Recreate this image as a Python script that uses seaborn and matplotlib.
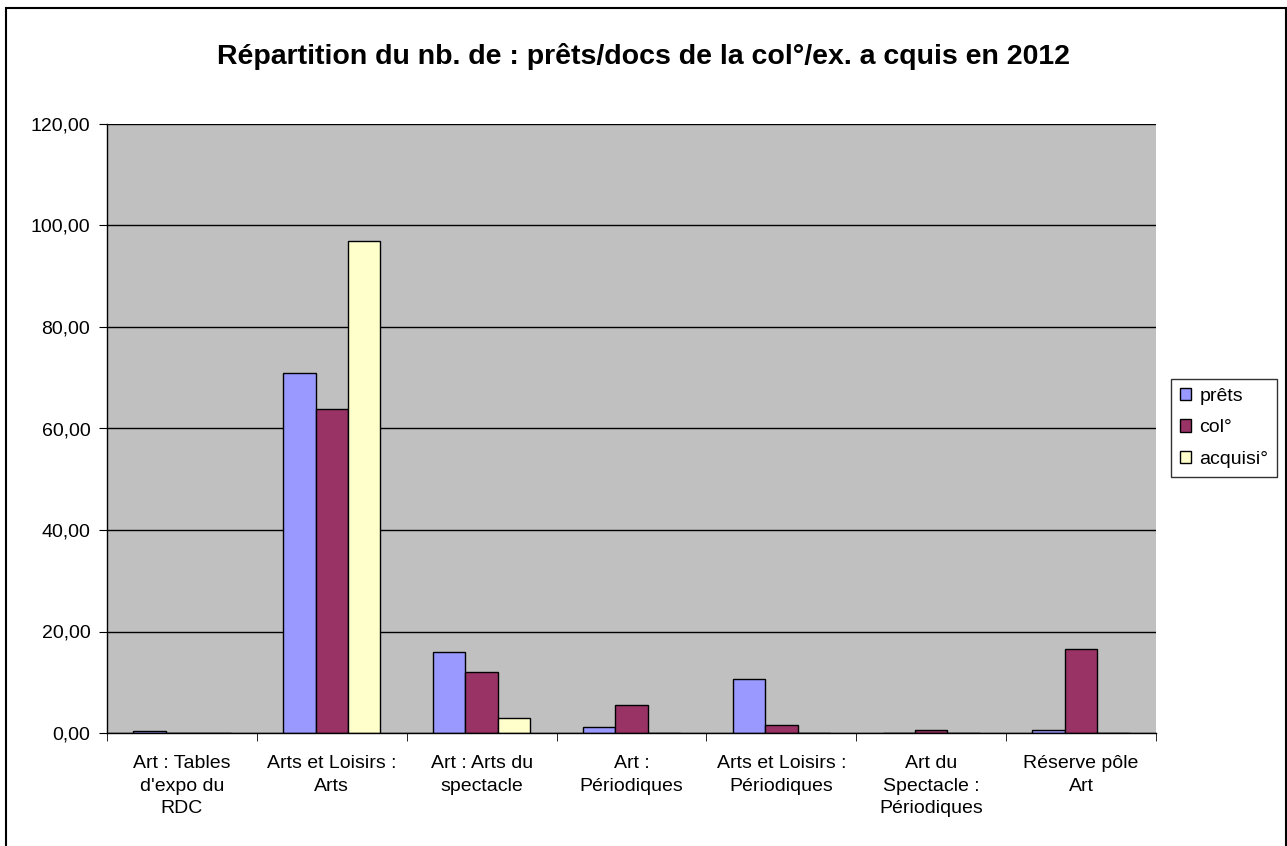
import numpy as np
import pandas as pd
import matplotlib
matplotlib.use('Agg')
import matplotlib.pyplot as plt
import seaborn as sns
from matplotlib.patches import Rectangle
from matplotlib.ticker import FuncFormatter

categories = ["Art : Tables\nd'expo du\nRDC", "Arts et Loisirs :\nArts", "Art : Arts du\nspectacle",
              "Art :\nPériodiques", "Arts et Loisirs :\nPériodiques", "Art du\nSpectacle :\nPériodiques",
              "Réserve pôle\nArt"]
series = ["prêts", "col°", "acquisi°"]
prets = [0.3, 71.0, 16.0, 1.25, 10.6, 0.0, 0.5]
col = [0.0, 63.8, 12.0, 5.5, 1.5, 0.5, 16.5]
acquisi = [0.0, 97.0, 3.0, 0.0, 0.0, 0.0, 0.0]
colors = ["#9999FF", "#993366", "#FFFFCC"]

df = pd.DataFrame({
    'cat': categories * 3,
    'serie': [series[0]] * 7 + [series[1]] * 7 + [series[2]] * 7,
    'val': prets + col + acquisi,
})

sns.set_style('white')
plt.rcParams['font.family'] = ['Liberation Sans', 'DejaVu Sans']
plt.rcParams['text.color'] = 'black'
plt.rcParams['xtick.color'] = 'black'
plt.rcParams['ytick.color'] = 'black'
plt.rcParams['xtick.labelcolor'] = 'black'
plt.rcParams['ytick.labelcolor'] = 'black'

fig = plt.figure(figsize=(12.87, 8.46), dpi=100)
ax = fig.add_axes([107 / 1287, 1 - 733 / 846, (1156 - 107) / 1287, (733 - 124) / 846])

sns.barplot(data=df, x='cat', y='val', hue='serie', palette=colors, width=0.65,
            edgecolor='black', linewidth=1, ax=ax, saturation=1, legend=True)

ax.set_facecolor('#C0C0C0')
ax.set_ylim(0, 120)
ax.set_xlim(-0.5, 6.5)
ax.set_yticks(np.arange(0, 121, 20))
ax.yaxis.set_major_formatter(FuncFormatter(lambda v, p: f"{v:.2f}".replace('.', ',')))
ax.grid(axis='y', color='black', linewidth=1)
ax.set_axisbelow(True)
for s in ['top', 'right']:
    ax.spines[s].set_visible(False)
for s in ['left', 'bottom']:
    ax.spines[s].set_color('black')
    ax.spines[s].set_linewidth(1)

ax.set_xticks(range(len(categories)))
ax.set_xticklabels(categories, fontsize=14, linespacing=1.42, va='top', color='black')
ax.set_xticks(np.arange(-0.5, 7, 1), minor=True)
ax.tick_params(axis='x', which='major', length=0, pad=16)
ax.tick_params(axis='x', which='minor', length=6, color='black', direction='out', bottom=True)
ax.tick_params(axis='y', length=6, color='black', direction='out', left=True, labelsize=14,
               pad=6, labelcolor='black')
ax.set_xlabel('')
ax.set_ylabel('')

ax.legend_.remove()
handles = [Rectangle((0, 0), 1, 1, facecolor=c, edgecolor='black', linewidth=1) for c in colors]
leg = fig.legend(handles, series, loc='upper left', bbox_to_anchor=(1171 / 1287, 1 - 379 / 846),
                 fontsize=14, frameon=True, fancybox=False, shadow=False, handlelength=0.6,
                 handleheight=0.6, handletextpad=0.4, borderpad=0.45, labelspacing=0.75,
                 borderaxespad=0)
leg.get_frame().set_edgecolor('black')
leg.get_frame().set_linewidth(1)
for t in leg.get_texts():
    t.set_color('black')

fig.text(0.5, 1 - 56 / 846, "Répartition du nb. de : prêts/docs de la col°/ex. a cquis en 2012",
         ha='center', va='center', fontsize=20.5, fontweight='bold', color='black')

fig.add_artist(Rectangle((6 / 1287, -0.01), (1286 - 6) / 1287, (846 - 8) / 846 + 0.01,
                         transform=fig.transFigure, fill=False, edgecolor='black', linewidth=1.5))

fig.savefig('out.png', dpi=100)
